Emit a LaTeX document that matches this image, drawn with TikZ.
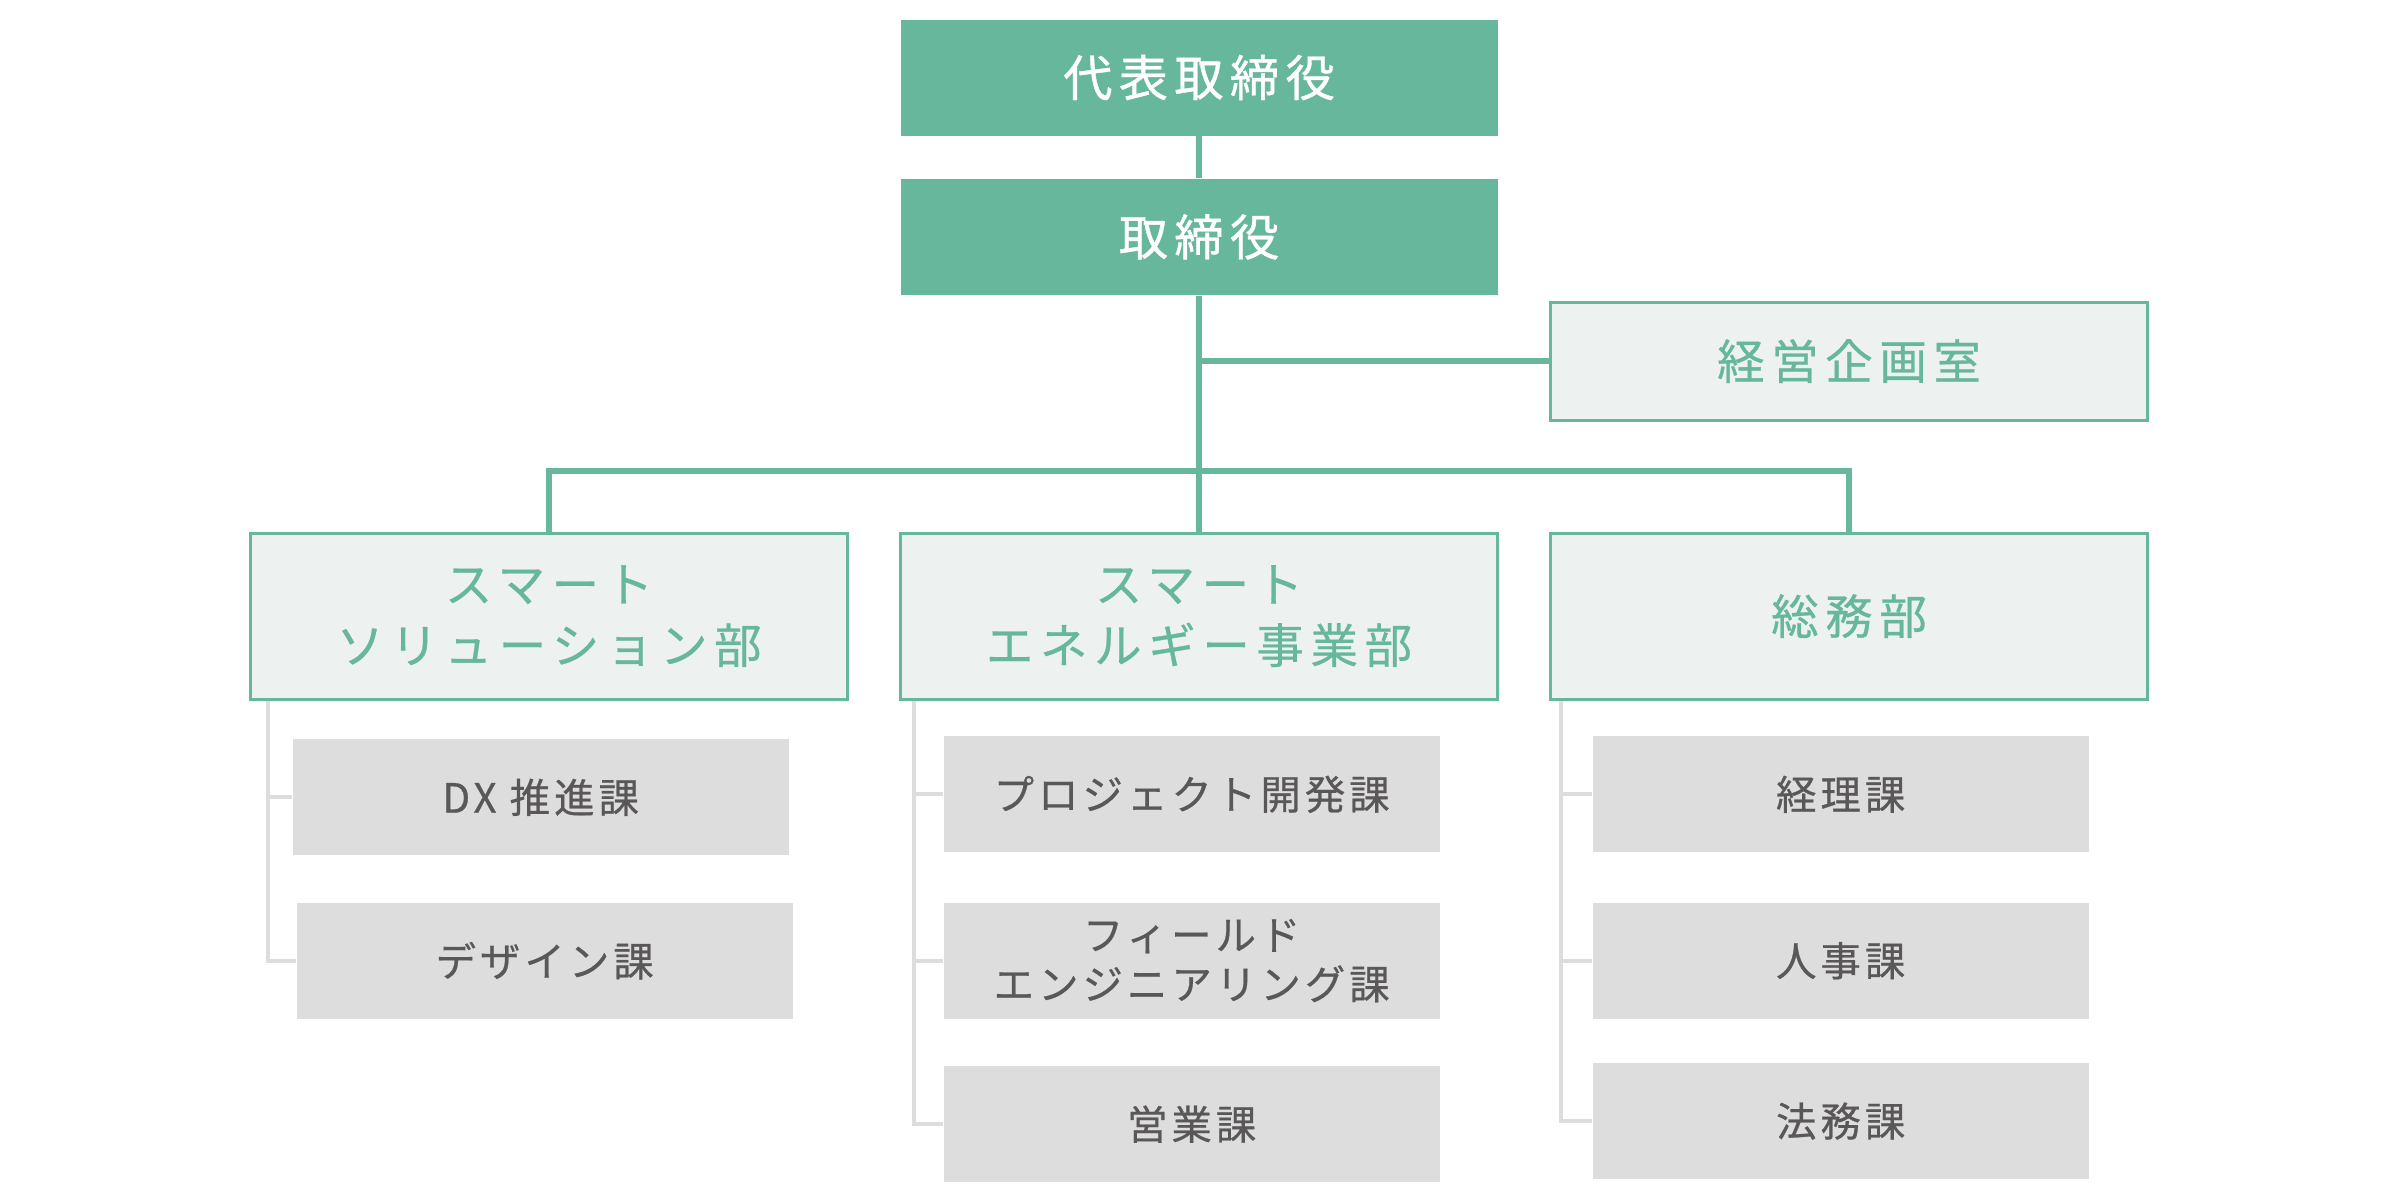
\documentclass[tikz,border=0pt]{standalone}
\usepackage{fontspec}
\usepackage{xcolor}
\usepackage{tikz}
\usetikzlibrary{positioning}
\newfontfamily\orgtopfont[LetterSpace=13,FakeBold=.8]{Noto Sans CJK JP}
\newfontfamily\orgdeptfont[LetterSpace=14,FakeBold=.6]{Noto Sans CJK JP}
\newfontfamily\orgsecfont[LetterSpace=10,FakeBold=.6]{Noto Sans CJK JP}
\definecolor{orggreen}{RGB}{103,183,157}
\definecolor{orgpale}{RGB}{237,242,240}
\definecolor{orggray}{RGB}{221,221,221}
\definecolor{orgtext}{RGB}{89,87,87}
\tikzset{
  topbox/.style={fill=orggreen,text=white,minimum width=5.97cm,minimum height=1.16cm,inner sep=0pt,font=\orgtopfont\fontsize{14}{17}\selectfont},
  deptbox/.style={fill=orgpale,draw=orggreen,line width=.85pt,text=orggreen,minimum width=5.97cm,minimum height=1.66cm,inner sep=0pt,align=center,font=\orgdeptfont\fontsize{13.5}{17.4}\selectfont},
  secbox/.style={fill=orggray,text=orgtext,minimum width=4.96cm,minimum height=1.16cm,inner sep=0pt,align=center,font=\orgsecfont\fontsize{11.5}{14}\selectfont},
  mainline/.style={draw=orggreen,line width=1.7pt},
  subline/.style={draw=orggray,line width=1.1pt}
}
\begin{document}
\begin{tikzpicture}
  \useasboundingbox (0,0) rectangle (24,-12);
  \node[topbox] (pres) at (11.99,-.775) {代表取締役};
  \node[topbox,below=.42cm of pres] (board) {取締役};
  \node[deptbox,below=2.36cm of board] (dene) {スマート\\エネルギー事業部};
  \node[deptbox,left=.5cm of dene] (dsol) {スマート\\ソリューション部};
  \node[deptbox,right=.5cm of dene] (dgen) {総務部};
  \node[deptbox,minimum height=1.18cm,above=1.1cm of dgen] (plan) {経営企画室};
  \node[secbox,below right=.38cm and .43cm of dsol.south west] (sdx) {DX 推進課};
  \node[secbox,below=.46cm of sdx,xshift=.04cm] (sdes) {デザイン課};
  \node[secbox,below right=.35cm and .44cm of dene.south west] (sprj) {プロジェクト開発課};
  \node[secbox,below=.49cm of sprj] (sfld) {フィールド\\エンジニアリング課};
  \node[secbox,below=.46cm of sfld] (ssal) {営業課};
  \node[secbox,below right=.35cm and .43cm of dgen.south west] (sacc) {経理課};
  \node[secbox,below=.49cm of sacc] (shr) {人事課};
  \node[secbox,below=.43cm of shr] (slaw) {法務課};
  \coordinate[above=.61cm of dene.north] (bar);
  \draw[mainline] (pres) -- (board);
  \draw[mainline] (board) -- (dene);
  \draw[mainline] (board.south |- plan.west) -- (plan.west);
  \draw[mainline] (dsol.north) |- (bar) -| (dgen.north);
  \draw[subline] ([xshift=.19cm]dsol.south west) |- (sdx.west);
  \draw[subline] ([xshift=.19cm]dsol.south west) |- (sdes.west);
  \draw[subline] ([xshift=.15cm]dene.south west) |- (sprj.west);
  \draw[subline] ([xshift=.15cm]dene.south west) |- (sfld.west);
  \draw[subline] ([xshift=.15cm]dene.south west) |- (ssal.west);
  \draw[subline] ([xshift=.12cm]dgen.south west) |- (sacc.west);
  \draw[subline] ([xshift=.12cm]dgen.south west) |- (shr.west);
  \draw[subline] ([xshift=.12cm]dgen.south west) |- (slaw.west);
\end{tikzpicture}
\end{document}
